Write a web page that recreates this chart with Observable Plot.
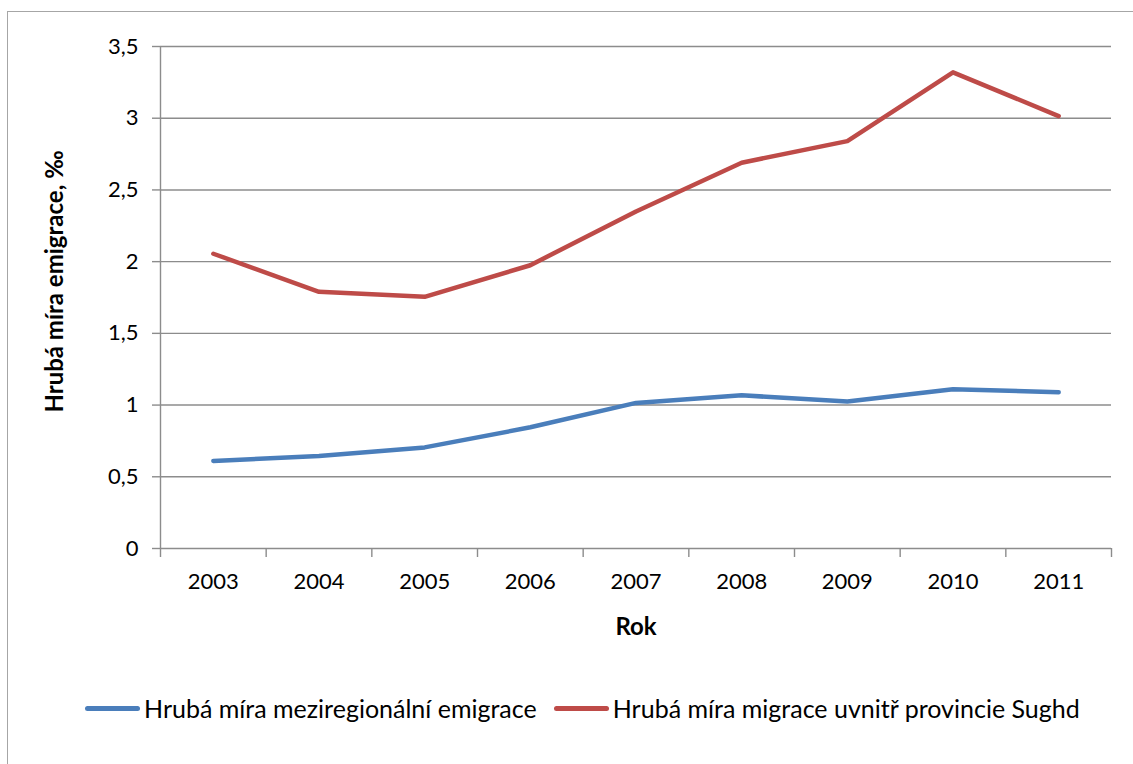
<!DOCTYPE html>
<html>
<head>
<meta charset="utf-8">
<script src="https://cdn.jsdelivr.net/npm/d3@7"></script>
<script src="https://cdn.jsdelivr.net/npm/@observablehq/plot@0.6"></script>
<style>
  html, body { margin: 0; padding: 0; background: #fff; }
  #wrap { position: relative; width: 1133px; height: 764px; overflow: hidden; font-family: Lato, "Open Sans", sans-serif; }
  #frame { position: absolute; left: 7px; top: 11px; width: 1140px; height: 780px; border: 1.5px solid #a6a6a6; box-sizing: border-box; }
  #chart { position: absolute; left: 0; top: 0; }
  #legend { position: absolute; left: 85px; top: 693px; display: flex; align-items: center; font-size: 25px; color: #000; white-space: nowrap; }
  .sw { display: inline-block; width: 55px; height: 5px; border-radius: 3px; margin-right: 4px; }
  .item { display: flex; align-items: center; margin-right: 17px; }
</style>
</head>
<body>
<div id="wrap">
  <div id="frame"></div>
  <div id="chart"></div>
  <div id="legend"></div>
</div>
<script>
const years = [2003, 2004, 2005, 2006, 2007, 2008, 2009, 2010, 2011];
const seriesNames = ["Hrubá míra meziregionální emigrace", "Hrubá míra migrace uvnitř provincie Sughd"];
const interregional = [0.61, 0.645, 0.705, 0.845, 1.015, 1.068, 1.025, 1.11, 1.09];
const withinSughd = [2.055, 1.79, 1.755, 1.975, 2.35, 2.69, 2.84, 3.32, 3.015];
const seriesColors = ["#4A7EBB", "#BE4B48"];
const yTicks = [0, 0.5, 1, 1.5, 2, 2.5, 3, 3.5];
const yTitle = "Hrubá míra emigrace, ‰";
const xTitle = "Rok";

const data = [];
years.forEach((yr, i) => {
  data.push({year: yr, value: interregional[i], series: seriesNames[0]});
  data.push({year: yr, value: withinSughd[i], series: seriesNames[1]});
});
const bounds = [years[0] - 0.5, ...years.map(y => y + 0.5)];
const comma = d => String(d).replace(".", ",");
const grid = "#8c8c8c";

const chart = Plot.plot({
  width: 1133,
  height: 660,
  marginLeft: 160,
  marginRight: 22,
  marginTop: 46,
  marginBottom: 112,
  style: {fontFamily: "Lato, 'Open Sans', sans-serif", fontSize: "22px", color: "#000", background: "transparent"},
  x: {domain: [bounds[0], bounds[bounds.length - 1]], axis: null},
  y: {domain: [0, 3.5], axis: null},
  color: {domain: seriesNames, range: seriesColors},
  marks: [
    Plot.gridY(yTicks, {stroke: grid, strokeOpacity: 1, strokeWidth: 1.4}),
    Plot.ruleX([bounds[0]], {y1: 0, y2: 3.5, stroke: grid, strokeWidth: 1.4}),
    Plot.axisY(yTicks, {label: null, tickSize: 8, tickPadding: 14, tickFormat: comma, stroke: grid, strokeWidth: 1.4, fontSize: 22}),
    Plot.axisX(bounds, {label: null, tickSize: 9, tickFormat: () => "", stroke: grid, strokeWidth: 1.4}),
    Plot.axisX(years, {label: null, tickSize: 0, tickPadding: 25, tickFormat: d => String(d), fontSize: 22}),
    Plot.text([yTitle], {frameAnchor: "left", textAnchor: "middle", dx: -105, dy: -16, rotate: -90, fontWeight: "bold", fontSize: 24}),
    Plot.text([xTitle], {frameAnchor: "bottom", dy: 86, fontWeight: "bold", fontSize: 24}),
    Plot.line(data, {x: "year", y: "value", z: "series", stroke: "series", strokeWidth: 4.5, strokeLinecap: "round", strokeLinejoin: "round"})
  ]
});
document.getElementById("chart").appendChild(chart);

const legend = document.getElementById("legend");
seriesNames.forEach((name, i) => {
  const item = document.createElement("div");
  item.className = "item";
  const sw = document.createElement("span");
  sw.className = "sw";
  sw.style.background = seriesColors[i];
  item.appendChild(sw);
  const t = document.createElement("span");
  t.textContent = name;
  item.appendChild(t);
  legend.appendChild(item);
});
</script>
</body>
</html>
